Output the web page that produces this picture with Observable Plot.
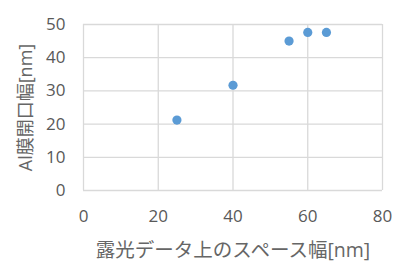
<!DOCTYPE html>
<html>
<head>
<meta charset="utf-8">
<script src="https://cdn.jsdelivr.net/npm/d3@7"></script>
<script src="https://cdn.jsdelivr.net/npm/@observablehq/plot@0.6"></script>
<style>
  html, body { margin: 0; padding: 0; background: #fff; }
  svg { display: block; }
</style>
</head>
<body>
<div id="chart"></div>
<script>
// Exposure-data space width vs. measured Al film opening width
const spaceWidth = [25, 40, 55, 60, 65];      // nm, x
const openingWidth = [21.2, 31.7, 45.0, 47.6, 47.6]; // nm, y
const xTicks = [0, 20, 40, 60, 80];
const yTicks = [0, 10, 20, 30, 40, 50];
const xLabel = "露光データ上のスペース幅[nm]";
const yLabel = "Al膜開口幅[nm]";

const points = spaceWidth.map((x, i) => ({x, y: openingWidth[i]}));

const gridColor = "#d9d9d9";
const textColor = "#595959";
const font = "'Open Sans', 'Noto Sans CJK JP', sans-serif";

const chart = Plot.plot({
  width: 403,
  height: 269,
  marginLeft: 83,
  marginRight: 21,
  marginTop: 24,
  marginBottom: 79,
  style: {fontFamily: font, fontSize: "17px", color: textColor, background: "#fff"},
  x: {domain: [0, 80]},
  y: {domain: [0, 50]},
  marks: [
    Plot.gridX(xTicks, {stroke: gridColor, strokeOpacity: 1, strokeWidth: 1.3}),
    Plot.gridY(yTicks, {stroke: gridColor, strokeOpacity: 1, strokeWidth: 1.3}),
    Plot.axisX({
      ticks: xTicks, tickSize: 0, tickPadding: 19, fill: textColor,
      label: xLabel, labelAnchor: "center", labelArrow: "none", labelOffset: 66
    }),
    Plot.axisY({
      ticks: yTicks, tickSize: 0, tickPadding: 18, fill: textColor,
      label: yLabel, labelAnchor: "center", labelArrow: "none", labelOffset: 64
    }),
    Plot.dot(points, {x: "x", y: "y", r: 4.6, fill: "#5b9bd5", stroke: "none"})
  ]
});

// Axis titles are set larger and a little lighter than the tick labels
d3.select(chart).selectAll("[aria-label='x-axis label'] text")
  .style("font-size", "19.5px").attr("fill", "#666");
d3.select(chart).selectAll("[aria-label='y-axis label'] text")
  .style("font-size", "18px").attr("fill", "#666");

document.getElementById("chart").appendChild(chart);
</script>
</body>
</html>
